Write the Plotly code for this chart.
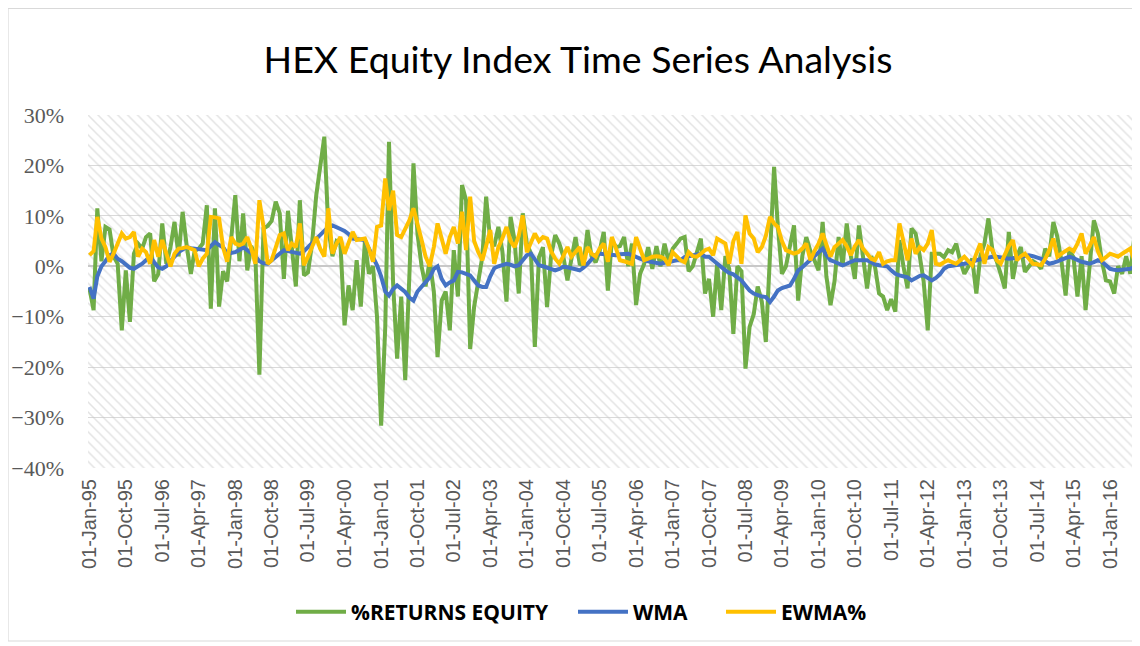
import pandas as pd
import plotly.graph_objects as go

# ---------------- data (monthly from Jan-1995), values in percent ----------------
start_month = "1995-01-01"

returns_equity = [
    -4.4, -8.7, 11.5, 1.0, 7.8, 7.3, 2.0, 0.5, -12.7, -0.8, -11.0, 2.5,
    4.5, 3.5, 5.8, 6.5, -3.0, -1.5, 8.5, 0.5, 3.8, 8.8, 2.0, 10.8,
    4.0, -1.5, 3.0, 3.5, 4.5, 12.1, -8.4, 11.5, -8.0, -1.0, -3.0, 6.0,
    14.1, 1.0, 10.5, -0.8, 4.0, 2.0, -21.5, 7.5, 8.0, 9.0, 12.8,
    10.5, -2.5, 11.0, 4.0, -4.0, 13.1, -1.8, -1.2, 4.5, 14.0, 20.0, 25.7,
    7.5, 2.0, 5.0, 4.5, -11.7, -3.8, -8.7, 1.2, -8.0, 5.0, -1.5, 0.0,
    -10.0, -31.6, -12.0, 24.7, -3.4, -18.3, -6.0, -22.6, -2.0, 20.4, 6.5, 0.0,
    -4.0, 1.2, -5.0, -18.0, -6.8, -5.0, -12.7, 3.2, -6.0, 16.1, 13.1, -16.4,
    -8.0, -3.0, 2.0, 13.8, 5.0, 4.0, 7.8, 3.0, -7.0, 9.8, 5.0,
    -5.4, 10.5, 4.5, 2.5, -16.0, 1.8, 3.8, -8.1, 2.0, 6.2, 4.5, 2.0,
    -2.8, 2.0, 5.8, 0.5, 0.2, 7.2, 2.0, 0.8, 3.0, 6.8, -4.8, 5.2,
    3.8, 4.0, 5.8, 0.0, 4.5, -7.7, -1.5, 0.5, 3.8, -0.5, 4.0, 0.0,
    4.5, 1.0, 3.5, 4.5, 5.5, 5.8, -1.0, 0.0, 3.0, 5.5, -5.4,
    -2.5, -10.0, 0.5, -8.7, 2.0, -0.5, -13.4, 0.0, -1.0, -20.3, -12.0, -9.5,
    -4.0, -7.0, -15.0, 2.0, 19.7, 8.0, -1.5, 0.0, 4.0, 8.1, -6.8, 2.0,
    5.8, 3.0, 1.2, -0.8, 8.8, -2.0, -7.7, -3.0, 5.8, 0.0, 8.5, 2.0,
    -2.5, 8.1, 2.0, -4.4, 2.0, 0.0, -5.4, -6.0, -8.7, -6.5, -9.0, 5.2,
    0.0, -4.4, 7.5, 6.5, 2.0, -3.0, -12.7, 2.5, 2.5, 2.5, 1.8,
    3.2, 2.8, 4.5, 1.0, -1.5, 0.0, 1.5, -5.4, 2.0, 4.5, 9.5, 3.0,
    1.0, -1.5, -4.4, 6.8, -2.5, 2.0, 3.8, -1.1, 0.0, 1.0, 0.5, -0.5,
    3.5, 2.0, 8.8, 5.8, 1.0, -5.8, 3.2, 1.8, -6.0, 2.0, -8.7, 1.0,
    9.1, 6.5, 1.0, -2.8, -3.0, -5.4, 0.0, -1.5, 2.0, -1.5, 5.8, 3.8,
]

wma = [
    -4.1, -6.4, -2.0, 0.0, 1.0, 2.2, 2.5, 1.5, 1.0, 0.3, -0.3, -0.5,
    0.0, 0.5, 1.2, 1.9, 0.8, -0.2, -0.5, 0.0, 1.0, 2.0, 2.8, 3.3,
    3.8, 3.6, 3.5, 3.5, 3.3, 3.2, 4.0, 4.8, 4.2, 3.8, 2.5, 2.6,
    2.8, 3.2, 3.8, 3.2, 2.5, 2.0, 1.0, 0.6, 0.5, 1.2, 2.0,
    2.6, 3.2, 3.0, 2.8, 2.6, 2.5, 3.0, 3.8, 4.5, 5.2, 6.0, 7.0,
    7.8, 8.1, 7.8, 7.4, 7.0, 6.4, 5.5, 5.4, 5.3, 5.2, 3.5, 1.8,
    0.2, -2.0, -5.0, -5.8, -4.5, -3.8, -4.5, -5.1, -6.2, -6.8, -5.0, -4.1,
    -3.3, -2.2, -0.5, 0.0, -2.5, -3.8, -3.2, -2.8, -1.1, -1.2, -1.5, -1.8,
    -2.8, -3.8, -4.1, -4.1, -2.0, -0.4, 0.0, 0.3, 0.5, 0.3, 0.0,
    0.2, 1.2, 2.2, 2.5, 1.2, 0.2, 0.0, -0.3, -0.6, -0.8, -0.5, -0.1,
    -0.2, -0.3, -0.6, -0.8, -0.3, 0.5, 1.5, 2.3, 2.5, 2.4, 2.3, 2.2,
    2.2, 2.4, 2.5, 2.5, 2.2, 1.8, 1.5, 1.2, 1.0, 0.8, 0.6, 0.5,
    0.7, 0.9, 1.1, 1.2, 1.2, 1.8, 2.0, 2.2, 2.4, 2.5, 1.9,
    1.9, 1.2, 0.5, -0.2, -0.8, -1.3, -1.6, -2.2, -2.8, -3.8, -4.8, -5.4,
    -5.8, -6.0, -6.1, -7.1, -6.0, -4.8, -4.3, -4.0, -3.8, -2.5, -0.8, -0.2,
    0.5, 1.2, 1.8, 2.6, 3.5, 2.2, 1.2, 0.9, 0.5, 0.2, 0.5, 0.9,
    1.2, 1.2, 1.2, 1.2, 0.8, 0.4, 0.2, 0.1, 0.0, -0.8, -1.5, -1.8,
    -2.0, -2.2, -2.8, -2.3, -1.9, -1.8, -2.2, -2.8, -2.3, -1.6, -0.5,
    0.0, 0.1, 0.2, 0.3, 0.5, 0.7, 1.0, 1.2, 1.4, 1.6, 1.9, 1.9,
    1.9, 1.8, 1.7, 1.5, 1.6, 1.8, 2.0, 2.1, 2.2, 2.0, 1.8, 1.5,
    1.0, 0.5, 0.7, 1.0, 1.2, 1.5, 1.9, 1.6, 1.2, 0.9, 0.7, 0.5,
    0.8, 1.2, 0.9, 0.2, -0.5, -0.7, -0.8, -0.7, -0.6, -0.5, -0.1, 0.5,
]

ewma = [
    2.2, 3.0, 9.8, 5.5, 3.8, 0.9, 2.5, 4.5, 6.5, 5.5, 5.8, 6.8,
    1.9, 3.5, 2.8, 0.5, 5.2, 1.9, 5.2, 2.5, 0.0, 2.5, 3.5, 3.6,
    3.8, 3.5, 3.2, 0.0, 1.5, 2.5, 9.8, 9.7, 9.5, 3.8, 0.9, 5.8,
    4.5, 4.2, 4.5, 5.8, 3.5, 0.5, 13.1, 7.8, 0.5, 1.2, 4.0,
    6.2, 6.5, 3.2, 4.5, 3.8, 8.5, 0.2, 1.9, 4.0, 5.8, 3.5, 1.9,
    11.5, 2.5, 4.5, 5.8, 2.5, 4.5, 6.8, 5.2, 5.3, 5.5, 3.5, 0.9,
    7.8, 8.1, 17.4, 11.1, 15.0, 6.2, 5.8, 7.5, 9.1, 11.5, 8.0, 5.2,
    1.9, 0.0, 3.8, 8.5, 5.5, 2.5, 5.8, 7.8, 4.5, 10.8, 3.2, 13.8,
    5.0, 2.8, 1.2, 4.0, 7.2, 0.5, 3.8, 5.5, 7.8, 5.0, 3.8,
    6.0, 10.1, 2.8, 4.8, 6.5, 5.0, 5.8, 5.5, 3.0, 1.5, 0.5, 2.0,
    3.8, 1.9, 3.0, 3.8, 0.2, 3.8, 2.5, 1.9, 3.5, 4.5, 0.9, 5.8,
    3.5, 1.2, 1.0, 0.8, 0.5, 5.8, 3.5, 1.2, 1.5, 1.9, 2.0, 1.9,
    1.5, 0.2, 2.8, 2.0, 1.2, 0.8, 2.8, 2.0, 1.9, 2.5, 3.2,
    3.5, 2.2, 5.5, 5.0, 4.5, 0.5, 5.0, 6.8, 0.5, 10.1, 6.5, 5.5,
    2.8, 3.8, 6.0, 9.8, 8.5, 7.8, 5.0, 3.2, 2.8, 2.5, 2.8, 3.5,
    4.5, 1.2, 3.0, 4.5, 6.5, 4.0, 1.9, 3.8, 4.5, 5.2, 4.0, 2.2,
    4.0, 5.2, 3.5, 2.5, 1.5, 1.2, 2.8, 0.5, 1.0, 1.2, 1.2, 8.5,
    5.2, 1.2, 5.5, 2.5, 3.8, 3.2, 4.5, 7.2, 0.5, 0.3, 0.8,
    1.2, 0.8, 0.5, 1.2, 1.9, 1.0, 0.2, 2.5, 4.5, 0.5, 3.8, 3.2,
    1.2, 0.5, 2.5, 4.0, 5.2, 1.2, 2.0, 2.5, 1.5, 0.5, 0.4, 0.2,
    1.5, 3.2, 5.5, 1.9, 2.5, 3.0, 3.5, 3.0, 4.5, 6.5, 2.5, 4.0,
    5.8, 3.0, 1.2, 1.8, 2.5, 2.2, 1.9, 2.5, 3.0, 3.5, 1.2, 1.9,
]

series_names = ["%RETURNS EQUITY", "WMA", "EWMA%"]
series_colors = ["#70AD47", "#4472C4", "#FFC000"]
title_text = "HEX Equity Index Time Series Analysis"

y_min, y_max = -0.40, 0.30
x_start, x_end = "1994-12-21", "2016-08-13"
tick_every_months = 9
last_tick = "2016-01-01"

# ---------------- figure ----------------
n_months = len(returns_equity)
dates = pd.date_range(start_month, periods=n_months, freq="MS")
tick_dates = pd.date_range(start_month, last_tick, freq=f"{tick_every_months}MS")

FIG_W, FIG_H = 1132, 638
M_L, M_R, M_T, M_B = 80, 0, 107, 178
PW, PH = FIG_W - M_L - M_R, FIG_H - M_T - M_B
OFF = 8  # page offset of the figure in the browser window

def px_x(sx):  # screen x -> paper x
    return (sx - OFF - M_L) / PW

def px_y(sy):  # screen y -> paper y
    return (FIG_H - M_B - (sy - OFF)) / PH

fig = go.Figure()

# hatched plot-area background
fig.add_trace(go.Scatter(
    x=[x_start, x_end, x_end, x_start, x_start],
    y=[y_min, y_min, y_max, y_max, y_min],
    mode="lines", line=dict(width=0, color="rgba(0,0,0,0)"),
    fill="toself", fillcolor="rgba(0,0,0,0)",
    fillpattern=dict(shape="\\", fgcolor="#c8c8c8", bgcolor="rgba(0,0,0,0)",
                     size=7, solidity=0.22),
    hoverinfo="skip", showlegend=False,
))

legend_ids = ["legend", "legend2", "legend3"]
legend_line_start = [296, 578, 726]  # screen x of each legend entry

for name, color, vals, lg in zip(series_names, series_colors, [returns_equity, wma, ewma], legend_ids):
    fig.add_trace(go.Scatter(
        x=dates, y=[v / 100 for v in vals], name=name, mode="lines",
        line=dict(color=color, width=4), legend=lg,
    ))

legend_common = dict(orientation="h", xanchor="left", y=px_y(612), yanchor="middle",
                     font=dict(family="Open Sans", size=21, color="#000000", weight="bold"),
                     itemwidth=50, bgcolor="rgba(0,0,0,0)")

fig.update_layout(
    width=FIG_W, height=FIG_H,
    margin=dict(l=M_L, r=M_R, t=M_T, b=M_B, autoexpand=False),
    paper_bgcolor="white", plot_bgcolor="white",
    title=dict(text=title_text, x=570 / FIG_W, xanchor="center", y=1 - 52 / FIG_H, yanchor="middle",
               font=dict(family="Lato", size=37.5, color="#000000")),
    showlegend=True,
    legend=dict(x=px_x(legend_line_start[0] - 5), **legend_common),
    legend2=dict(x=px_x(legend_line_start[1] - 5), **legend_common),
    legend3=dict(x=px_x(legend_line_start[2] - 5), **legend_common),
    shapes=[dict(type="rect", xref="paper", yref="paper",
                 x0=-M_L / PW, x1=1.0, y0=-(633 - (FIG_H - M_B)) / PH, y1=(FIG_H - M_B - 0.5) / PH,
                 line=dict(color="#d9d9d9", width=1.2), fillcolor="rgba(0,0,0,0)", layer="below")],
)

fig.update_xaxes(
    type="date", range=[x_start, x_end],
    tickvals=list(tick_dates), tickformat="%d-%b-%y", tickangle=-90,
    tickfont=dict(family="Liberation Sans", size=20, color="#595959"),
    showgrid=False, showline=False, ticks="", ticklabelstandoff=6,
)
fig.update_yaxes(
    range=[y_min, y_max], dtick=0.1, tickformat=".0%",
    tickfont=dict(family="Liberation Serif", size=22, color="#595959"),
    showgrid=True, gridcolor="#d9d9d9", gridwidth=1.3,
    zeroline=True, zerolinecolor="#c8c8c8", zerolinewidth=2,
    showline=False, ticks="", ticklabelstandoff=23,
)

fig.write_html("out.html")
